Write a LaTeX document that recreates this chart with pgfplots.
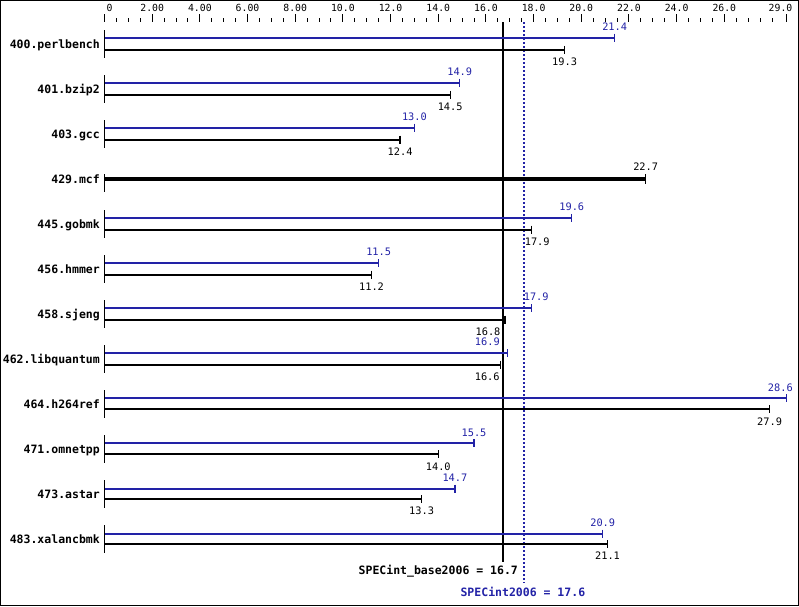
\documentclass[border=0pt]{standalone}
\usepackage{pgfplots}
\usepackage{pgfplotstable}
\pgfplotsset{compat=1.18}
\usepackage{fontspec}
\setmainfont{DejaVu Sans Mono}
\definecolor{specblue}{RGB}{34,34,166}

\pgfplotstableread{
x y lbl dx
21.4 37.5 21.4 0
14.9 82.6 14.9 0
13.0 127.7 13.0 0
19.6 217.9 19.6 0
11.5 263.0 11.5 0
17.9 308.1 17.9 5
16.9 353.2 16.9 -20
28.6 398.3 28.6 -6
15.5 443.4 15.5 0
14.7 488.5 14.7 0
20.9 533.6 20.9 0
}\peak

\pgfplotstableread{
x y lbl dx
19.3 49.8 19.3 0
14.5 94.8 14.5 0
12.4 139.7 12.4 0
17.9 229.6 17.9 6
11.2 274.6 11.2 0
16.8 319.5 16.8 -17
16.6 364.5 16.6 -13
27.9 409.4 27.9 0
14.0 454.4 14.0 0
13.3 499.3 13.3 0
21.1 544.3 21.1 0
}\base

\pgfplotstableread{
x y lbl dx
22.7 179 22.7 0
}\mcf

\pgfplotstableread{
x y name
0 44 400.perlbench
0 89 401.bzip2
0 134 403.gcc
0 179 429.mcf
0 224 445.gobmk
0 269 456.hmmer
0 314 458.sjeng
0 359 462.libquantum
0 404 464.h264ref
0 449 471.omnetpp
0 494 473.astar
0 539 483.xalancbmk
}\names

\begin{document}
\begin{tikzpicture}[x=1pt,y=1pt]
\useasboundingbox (0,0) rectangle (799,-606);
\draw[line width=1pt] (0.5,-0.5) rectangle (798.5,-605.5);
\begin{axis}[
  at={(104.5pt,-22pt)}, anchor=north west,
  scale only axis, width=681.8pt, height=583pt,
  xmin=0, xmax=28.6, ymin=22, ymax=605, y dir=reverse,
  clip=false,
  axis x line*=top, axis y line=none,
  x axis line style={draw=none},
  xtick={0,2,4,6,8,10,12,14,16,18,20,22,24,26,28.6},
  xticklabels={{\makebox[0pt][l]{\hspace{2pt}0}},2.00,4.00,6.00,8.00,10.0,12.0,14.0,16.0,18.0,20.0,22.0,24.0,26.0,{\makebox[0pt][r]{29.0\hspace{-6pt}}}},
  minor xtick={0.5,1,1.5,2.5,3,3.5,4.5,5,5.5,6.5,7,7.5,8.5,9,9.5,10.5,11,11.5,12.5,13,13.5,14.5,15,15.5,16.5,17,17.5,18.5,19,19.5,20.5,21,21.5,22.5,23,23.5,24.5,25,25.5,26.5,27,27.5,28},
  ytick=\empty,
  tick align=outside,
  major tick length=8pt, minor tick length=4pt,
  tick style={black, line width=1pt},
  xticklabel style={font=\fontsize{9.8}{11}\selectfont, inner sep=0pt, anchor=base, yshift=3pt},
]
% group separators (vertical stubs of the value axis)
\addplot[black, line width=1pt, unbounded coords=jump] coordinates {
(0,30) (0,58) (0,nan)
(0,75) (0,103) (0,nan)
(0,120) (0,148) (0,nan)
(0,174) (0,192) (0,nan)
(0,210) (0,238) (0,nan)
(0,255) (0,283) (0,nan)
(0,300) (0,328) (0,nan)
(0,345) (0,373) (0,nan)
(0,390) (0,418) (0,nan)
(0,435) (0,463) (0,nan)
(0,480) (0,508) (0,nan)
(0,525) (0,553)
};
% reference lines
\addplot[black, line width=2pt] coordinates {(16.7,22) (16.7,562)};
\addplot[specblue, line width=2pt, dash pattern=on 2pt off 2pt] coordinates {(17.6,22) (17.6,583)};
% peak
\addplot[xcomb, specblue, line width=2pt, mark=|, mark size=4pt, mark options={solid, line width=1.3pt},
  nodes near coords, point meta=explicit symbolic,
  visualization depends on={\thisrow{dx}\as\dx},
  every node near coord/.append style={anchor=base, inner sep=0pt, yshift=7.3pt, xshift=\dx pt, text=specblue, font=\fontsize{10.3}{12}\selectfont}]
  table[x=x, y=y, meta=lbl] {\peak};
% base
\addplot[xcomb, black, line width=2pt, mark=|, mark size=4pt, mark options={solid, line width=1.3pt},
  nodes near coords, point meta=explicit symbolic,
  visualization depends on={\thisrow{dx}\as\dx},
  every node near coord/.append style={anchor=north, inner sep=0pt, yshift=-7.3pt, xshift=\dx pt, text=black, font=\fontsize{10.3}{12}\selectfont}]
  table[x=x, y=y, meta=lbl] {\base};
% mcf (base only)
\addplot[xcomb, black, line width=4pt, mark=|, mark size=5pt, mark options={solid, line width=1.3pt},
  nodes near coords, point meta=explicit symbolic,
  every node near coord/.append style={anchor=base, inner sep=0pt, yshift=9pt, text=black, font=\fontsize{10.3}{12}\selectfont}]
  table[x=x, y=y, meta=lbl] {\mcf};
% benchmark names
\addplot[only marks, mark=none, nodes near coords, point meta=explicit symbolic,
  every node near coord/.append style={anchor=base east, inner sep=0pt, xshift=-4.5pt, yshift=-4.2pt, text=black, font=\fontsize{11.5}{13}\selectfont\bfseries}]
  table[x=x, y=y, meta=name] {\names};
\node[anchor=base east, inner sep=0pt, font=\fontsize{11.5}{13}\selectfont\bfseries] at (axis cs:17.35,574.2) {SPECint\_base2006 = 16.7};
\node[anchor=base, inner sep=0pt, text=specblue, font=\fontsize{11.5}{13}\selectfont\bfseries] at (axis cs:17.55,596.2) {SPECint2006 = 17.6};
\end{axis}
\end{tikzpicture}
\end{document}
